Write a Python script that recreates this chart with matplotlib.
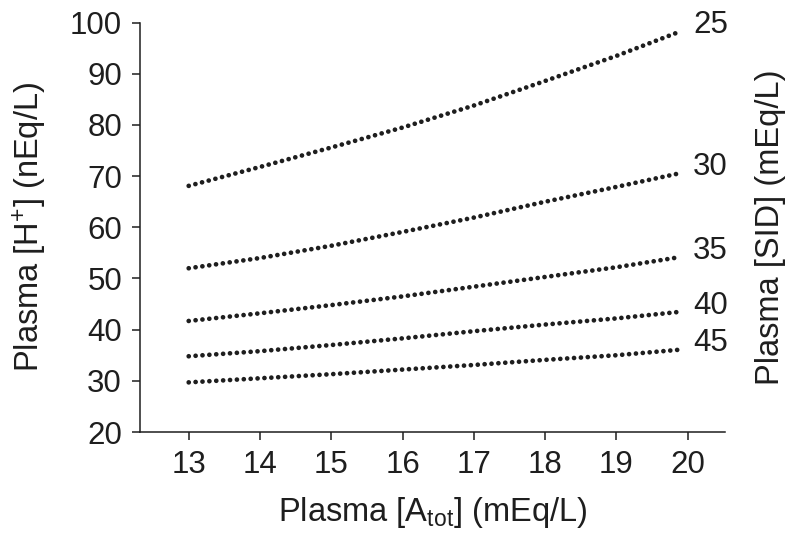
import matplotlib
matplotlib.use("Agg")
import matplotlib.pyplot as plt

plt.rcParams["font.family"] = ["Liberation Sans", "DejaVu Sans"]
plt.rcParams["mathtext.fontset"] = "custom"
plt.rcParams["mathtext.rm"] = "Liberation Sans"
plt.rcParams["mathtext.it"] = "Liberation Sans"

# plasma A_tot (mEq/L) where each curve is sampled
atot = [13, 14, 15, 16, 17, 18, 19, 19.9]

# plasma [H+] (nEq/L) for each SID level
h_sid25 = [68.1, 71.8, 75.6, 79.5, 83.8, 88.6, 93.5, 98.3]
h_sid30 = [52.0, 54.0, 56.4, 59.1, 61.9, 65.0, 67.9, 70.6]
h_sid35 = [41.7, 43.2, 44.8, 46.5, 48.4, 50.3, 52.2, 54.2]
h_sid40 = [34.8, 35.8, 37.0, 38.3, 39.7, 41.0, 42.2, 43.5]
h_sid45 = [29.7, 30.5, 31.3, 32.2, 33.1, 34.1, 35.0, 36.1]

sid_labels = ["25", "30", "35", "40", "45"]
curves = [h_sid25, h_sid30, h_sid35, h_sid40, h_sid45]

ink = "#1e1e1e"

fig = plt.figure(figsize=(7.88, 5.39), dpi=100)
ax = fig.add_axes([0.1777, 0.1985, 0.7423, 0.7595])

for lab, h in zip(sid_labels, curves):
    ax.plot(atot, h, color=ink, lw=3.4, linestyle=(0, (0.01, 1.45)),
            dash_capstyle="round", solid_capstyle="round")
    ax.annotate(lab, xy=(atot[-1], h[-1]), xytext=(9, 4.5),
                textcoords="offset points", ha="left", va="center",
                fontsize=22.5, color=ink, annotation_clip=False)

ax.set_xlim(12.317, 20.523)
ax.set_ylim(20, 100)
ax.set_xticks(range(13, 21))
ax.set_yticks(range(20, 101, 10))

for side in ("top", "right"):
    ax.spines[side].set_visible(False)
for side in ("left", "bottom"):
    ax.spines[side].set_linewidth(1.1)
    ax.spines[side].set_color(ink)

ax.tick_params(axis="both", direction="out", length=6, width=1.1,
               color=ink, labelcolor=ink, labelsize=22.5, pad=7)

ax.set_xlabel("Plasma [A$_{\\rm tot}$] (mEq/L)", fontsize=23.5, color=ink, labelpad=11)
ax.set_ylabel("Plasma [H$^{+}$] (nEq/L)", fontsize=23.5, color=ink, labelpad=15)
ax.text(1.078, 0.5, "Plasma [SID] (mEq/L)", transform=ax.transAxes,
        rotation=90, ha="center", va="center", fontsize=23.5, color=ink)

fig.savefig("out.png", dpi=100)
